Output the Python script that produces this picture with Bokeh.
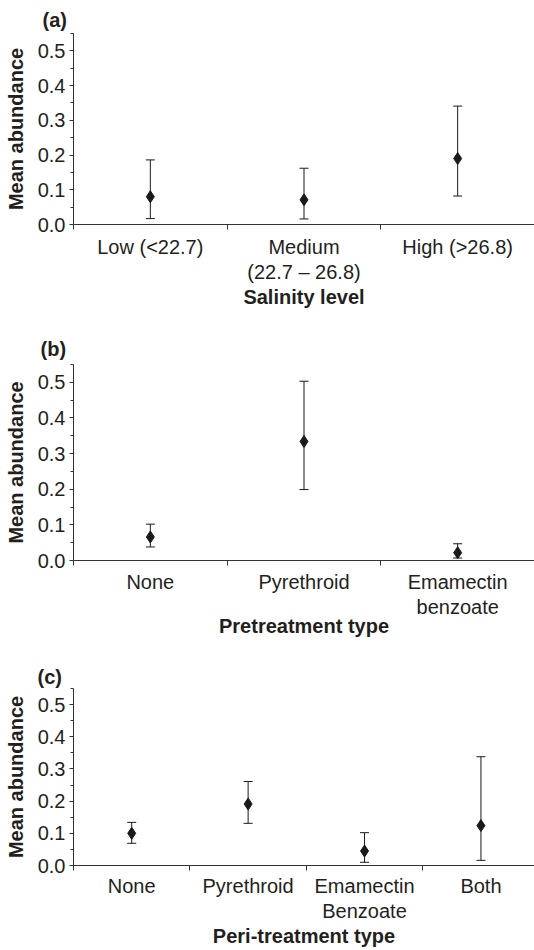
from bokeh.plotting import figure
from bokeh.layouts import column
from bokeh.models import Range1d, FixedTicker, Whisker, ColumnDataSource, TeeHead
from bokeh.embed import file_html
from bokeh.resources import INLINE

# ---- data ----
sal_cats = ["Low (<22.7)", "Medium\n(22.7 \u2013 26.8)", "High (>26.8)"]
sal_mean = [0.080, 0.071, 0.190]
sal_lower = [0.017, 0.016, 0.082]
sal_upper = [0.186, 0.162, 0.341]

pre_cats = ["None", "Pyrethroid", "Emamectin\nbenzoate"]
pre_mean = [0.066, 0.334, 0.022]
pre_lower = [0.038, 0.199, 0.007]
pre_upper = [0.102, 0.503, 0.047]

peri_cats = ["None", "Pyrethroid", "Emamectin\nBenzoate", "Both"]
peri_mean = [0.100, 0.191, 0.045, 0.124]
peri_lower = [0.069, 0.131, 0.010, 0.016]
peri_upper = [0.134, 0.261, 0.102, 0.338]

y_ticks = [0.0, 0.1, 0.2, 0.3, 0.4, 0.5]
y_minor = [0.05, 0.15, 0.25, 0.35, 0.45, 0.55]
y_max = 0.55

TXT = "#231f20"
FONT = "Liberation Sans"


def panel(tag, cats, mean, lower, upper, xlabel, height, top, bottom,
          tag_dx, tag_standoff, tick_standoff, xlab_standoff, x_end_trim=0.0):
    n = len(cats)
    xs = [i + 0.5 for i in range(n)]
    src = ColumnDataSource(dict(x=xs, mean=mean, lower=lower, upper=upper))
    p = figure(width=534, height=height, output_backend="svg",
               toolbar_location=None, x_range=Range1d(0, n - x_end_trim),
               y_range=Range1d(0, y_max),
               min_border_left=73, min_border_right=0,
               min_border_top=top, min_border_bottom=bottom)
    p.outline_line_color = None
    p.xgrid.visible = False
    p.ygrid.visible = False
    p.background_fill_color = "white"

    p.title.text = tag
    p.title.align = "left"
    p.title.offset = tag_dx
    p.title.standoff = tag_standoff
    p.title.text_font = FONT
    p.title.text_font_size = "20px"
    p.title.text_font_style = "bold"
    p.title.text_color = TXT

    w = Whisker(source=src, base="x", upper="upper", lower="lower",
                line_color="#1a1a1a", line_width=1,
                upper_head=TeeHead(size=9, line_color="#1a1a1a", line_width=1),
                lower_head=TeeHead(size=9, line_color="#1a1a1a", line_width=1))
    p.add_layout(w)
    p.scatter("x", "mean", source=src, marker="diamond", size=12,
              color="#1a1a1a")

    # x axis
    xa = p.xaxis[0]
    xa.ticker = FixedTicker(ticks=xs, minor_ticks=list(range(n + 1)))
    xa.major_label_overrides = {x: c for x, c in zip(xs, cats)}
    xa.major_tick_out = 0
    xa.major_tick_in = 0
    xa.minor_tick_out = 5
    xa.minor_tick_in = 0
    xa.axis_line_color = "#333333"
    xa.minor_tick_line_color = "#333333"
    xa.major_label_text_font = FONT
    xa.major_label_text_font_size = "20px"
    xa.major_label_text_color = TXT
    xa.major_label_text_line_height = 1.16
    xa.major_label_standoff = tick_standoff
    xa.axis_label = xlabel
    xa.axis_label_text_font = FONT
    xa.axis_label_text_font_size = "20px"
    xa.axis_label_text_font_style = "bold"
    xa.axis_label_text_color = TXT
    xa.axis_label_text_line_height = 1.0
    xa.axis_label_standoff = xlab_standoff

    # y axis
    ya = p.yaxis[0]
    ya.ticker = FixedTicker(ticks=y_ticks, minor_ticks=y_minor)
    ya.major_label_overrides = {t: f"{t:.1f}" for t in y_ticks}
    ya.major_tick_out = 4
    ya.major_tick_in = 0
    ya.minor_tick_out = 3
    ya.minor_tick_in = 0
    ya.axis_line_color = "#333333"
    ya.major_tick_line_color = "#333333"
    ya.minor_tick_line_color = "#333333"
    ya.major_label_text_font = FONT
    ya.major_label_text_font_size = "20px"
    ya.major_label_text_color = TXT
    ya.major_label_standoff = 4
    ya.axis_label = "Mean abundance"
    ya.axis_label_text_font = FONT
    ya.axis_label_text_font_size = "20px"
    ya.axis_label_text_font_style = "bold"
    ya.axis_label_text_color = TXT
    ya.axis_label_standoff = 8
    return p


pa = panel("(a)", sal_cats, sal_mean, sal_lower, sal_upper, "Salinity level",
           316, 33, 92, -31, 5, 6, 0)
pb = panel("(b)", pre_cats, pre_mean, pre_lower, pre_upper, "Pretreatment type",
           324, 48, 80, -33, 10, 5, -6)
pc = panel("(c)", peri_cats, peri_mean, peri_lower, peri_upper,
           "Peri-treatment type", 310, 48, 85, -36, 2, 4, 0, x_end_trim=0.04)

layout = column(pa, pb, pc, spacing=0)
open("out.html", "w").write(file_html(layout, INLINE))
